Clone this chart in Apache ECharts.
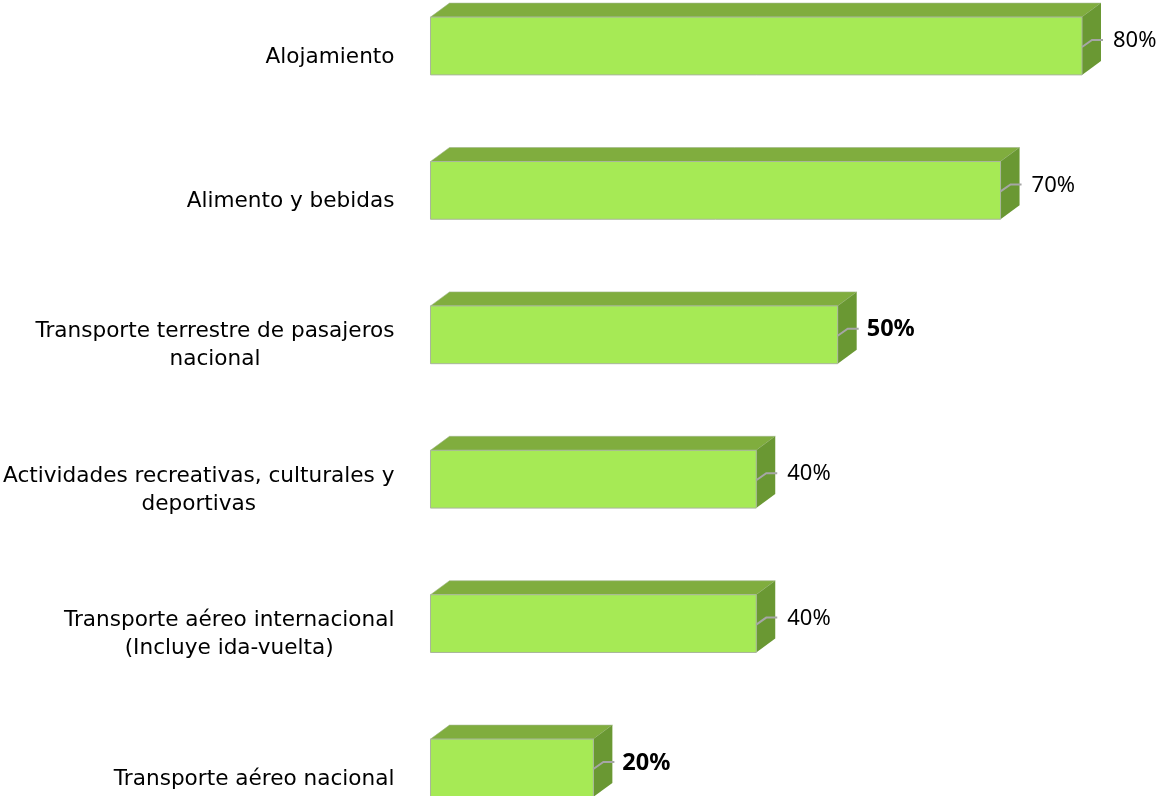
<!DOCTYPE html>
<html>
<head>
<meta charset="utf-8">
<script src="https://cdn.jsdelivr.net/npm/echarts@6/dist/echarts.min.js"></script>
<style>
  html, body { margin: 0; padding: 0; background: #fff; }
  #chart { width: 1159px; height: 796px; }
</style>
</head>
<body>
<div id="chart"></div>
<script>
const categories = [
  "Alojamiento",
  "Alimento y bebidas",
  "Transporte terrestre de pasajeros\nnacional",
  "Actividades recreativas, culturales y\ndeportivas",
  "Transporte aéreo internacional\n(Incluye ida-vuelta)",
  "Transporte aéreo nacional",
];
const values = [80, 70, 50, 40, 40, 20];
const boldLabels = [false, false, true, false, false, true];

const CAT_FONT = "'DejaVu Sans', sans-serif";
const VAL_FONT = "'Noto Sans', sans-serif";
const DX = 19, DY = 14;

function renderBar(params, api) {
  const idx = api.value(1);
  const end = api.coord([api.value(0), idx]);
  const start = api.coord([0, idx]);
  const h = api.size([0, 1])[1] * 0.4;
  const x0 = start[0], x1 = end[0], cy = end[1];
  const top = cy - h / 2, bot = cy + h / 2;
  const bold = boldLabels[idx];
  return {
    type: "group",
    children: [
      {
        type: "polygon",
        shape: { points: [[x0, top], [x0 + DX, top - DY], [x1 + DX, top - DY], [x1, top]] },
        style: { fill: "#80ad3e", stroke: "#9fb58a", lineWidth: 0.6 },
      },
      {
        type: "polygon",
        shape: { points: [[x1, top], [x1 + DX, top - DY], [x1 + DX, bot - DY], [x1, bot]] },
        style: { fill: "#6a9833" },
      },
      {
        type: "rect",
        shape: { x: x0, y: top, width: x1 - x0, height: h },
        style: { fill: "#a6ea55", stroke: "#a9b69c", lineWidth: 1 },
      },
      {
        type: "polyline",
        shape: { points: [[x1, cy + 1], [x1 + 10, cy - 6], [x1 + 21, cy - 6]] },
        style: { stroke: "#a6a6a6", lineWidth: 2, fill: null },
      },
      {
        type: "text",
        style: {
          x: x1 + (bold ? 29 : 31),
          y: cy - 5,
          text: api.value(0) + "%",
          fill: "#000",
          font: bold ? "bold 23.5px " + VAL_FONT : "22px " + VAL_FONT,
          verticalAlign: "middle",
          align: "left",
        },
      },
    ],
  };
}

const chart = echarts.init(document.getElementById("chart"));
chart.setOption({
  animation: false,
  grid: { left: 429, right: 77, top: 46, bottom: 28, containLabel: false },
  xAxis: { type: "value", min: 0, max: 80, show: false },
  yAxis: {
    type: "category",
    data: categories,
    inverse: true,
    boundaryGap: false,
    axisLine: { show: false },
    axisTick: { show: false },
    splitLine: { show: false },
    axisLabel: {
      margin: 36,
      padding: [22, 0, 0, 0],
      formatter: (v) => v.split("\n").map((l) => "{c|" + l + "}").join("\n"),
      rich: {
        c: { align: "center", fontSize: 21.6, fontFamily: CAT_FONT, color: "#000", lineHeight: 28 },
      },
    },
  },
  series: [
    {
      type: "custom",
      renderItem: renderBar,
      encode: { x: 0, y: 1 },
      data: values.map((v, i) => [v, i]),
    },
  ],
});
</script>
</body>
</html>
